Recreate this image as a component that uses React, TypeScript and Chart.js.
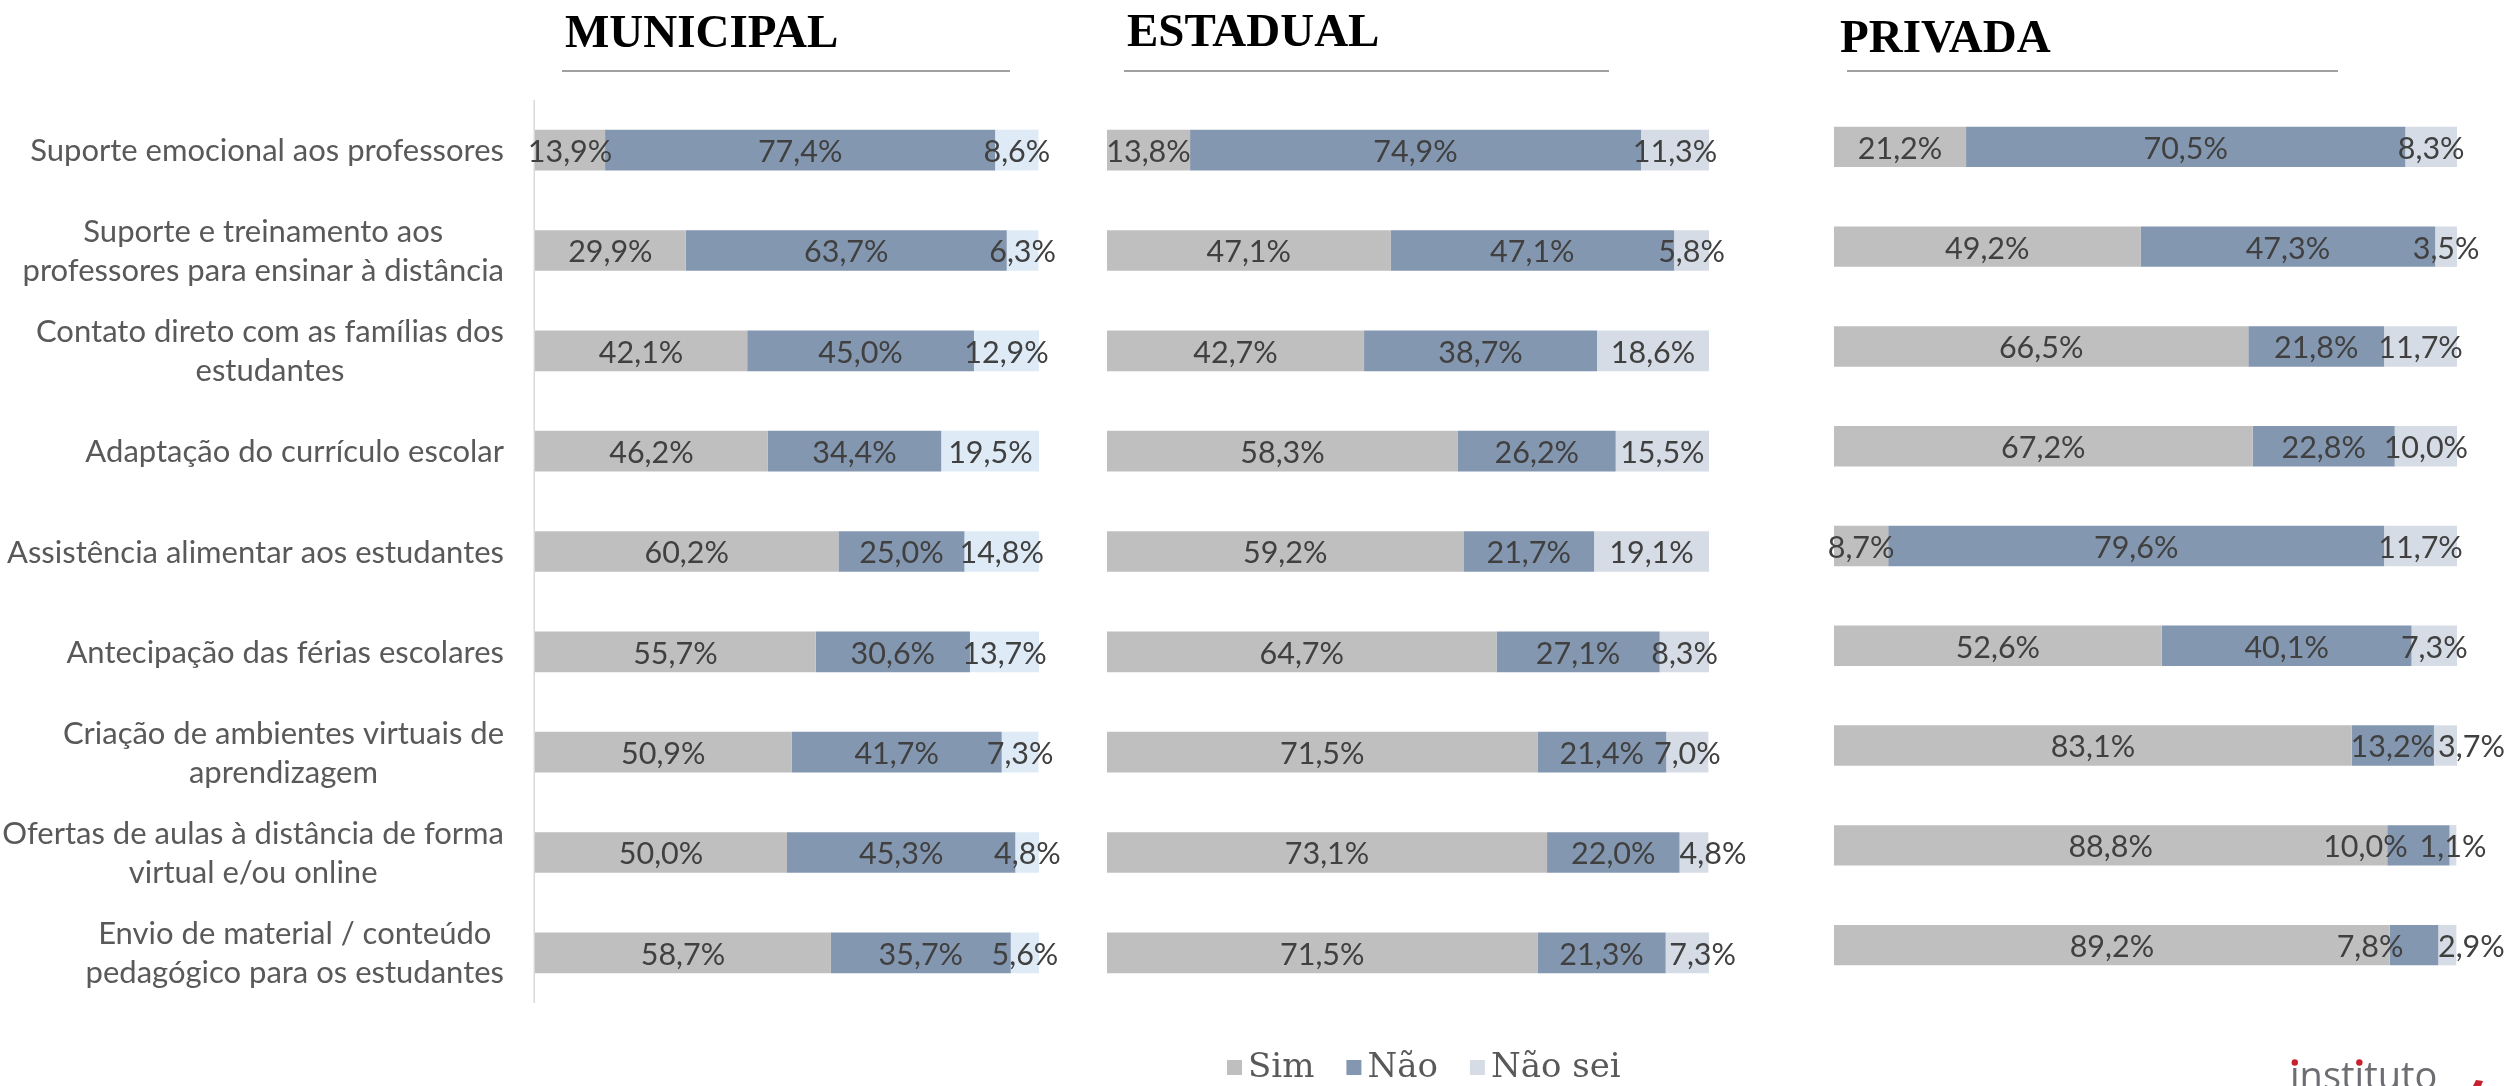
import React, { useEffect, useRef } from "react";
import { Chart, registerables } from "chart.js";

Chart.register(...registerables);

// ---------------- DATA ----------------
const categories: (string | string[])[] = [
  "Suporte emocional aos professores",
  ["Suporte e treinamento aos", "professores para ensinar à distância"],
  ["Contato direto com as famílias dos", "estudantes"],
  "Adaptação do currículo escolar",
  "Assistência alimentar aos estudantes",
  "Antecipação das férias escolares",
  ["Criação de ambientes virtuais de", "aprendizagem"],
  ["Ofertas de aulas à distância de forma", "virtual e/ou online"],
  ["Envio de material / conteúdo", "pedagógico para os estudantes"],
];

const seriesNames = ["Sim", "Não", "Não sei"];

const municipalSim = [13.9, 29.9, 42.1, 46.2, 60.2, 55.7, 50.9, 50.0, 58.7];
const municipalNao = [77.4, 63.7, 45.0, 34.4, 25.0, 30.6, 41.7, 45.3, 35.7];
const municipalNaoSei = [8.6, 6.3, 12.9, 19.5, 14.8, 13.7, 7.3, 4.8, 5.6];

const estadualSim = [13.8, 47.1, 42.7, 58.3, 59.2, 64.7, 71.5, 73.1, 71.5];
const estadualNao = [74.9, 47.1, 38.7, 26.2, 21.7, 27.1, 21.4, 22.0, 21.3];
const estadualNaoSei = [11.3, 5.8, 18.6, 15.5, 19.1, 8.3, 7.0, 4.8, 7.3];

const privadaSim = [21.2, 49.2, 66.5, 67.2, 8.7, 52.6, 83.1, 88.8, 89.2];
const privadaNao = [70.5, 47.3, 21.8, 22.8, 79.6, 40.1, 13.2, 10.0, 7.8];
const privadaNaoSei = [8.3, 3.5, 11.7, 10.0, 11.7, 7.3, 3.7, 1.1, 2.9];

const panelTitles = ["MUNICIPAL", "ESTADUAL", "PRIVADA"];

// ---------------- STYLE / LAYOUT ----------------
const W = 2511;
const H = 1086;
const SIM_COLOR = "#BFBFBF";
const NAO_COLOR = "#8497B0";
const NAOSEI_COLOR = "#D6DCE5";
const NAOSEI_COLOR_MUN = "#DEEBF7";
const LABEL_FONT = "30.5px Lato";
const CAT_FONT = "31px Lato";

type Panel = {
  title: string;
  values: number[][];
  colors: string[];
  area: { left: number; right: number; top: number; bottom: number };
  titleX: number;
  titleY: number;
  lineX1: number;
  lineX2: number;
  showCategories: boolean;
  axisLine: boolean;
  legend: boolean;
  logo: boolean;
  shifts: Record<string, number>;
};

const panels: Panel[] = [
  {
    title: panelTitles[0],
    values: [municipalSim, municipalNao, municipalNaoSei],
    colors: [SIM_COLOR, NAO_COLOR, NAOSEI_COLOR_MUN],
    area: { left: 535, right: 1039, top: 100, bottom: 1003 },
    titleX: 565,
    titleY: 47,
    lineX1: 562,
    lineX2: 1010,
    showCategories: true,
    axisLine: true,
    legend: false,
    logo: false,
    shifts: {},
  },
  {
    title: panelTitles[1],
    values: [estadualSim, estadualNao, estadualNaoSei],
    colors: [SIM_COLOR, NAO_COLOR, NAOSEI_COLOR],
    area: { left: 1107, right: 1709, top: 100, bottom: 1003 },
    titleX: 1127,
    titleY: 46,
    lineX1: 1124,
    lineX2: 1609,
    showCategories: false,
    axisLine: false,
    legend: true,
    logo: false,
    shifts: { "2-7": 19, "2-8": 15 },
  },
  {
    title: panelTitles[2],
    values: [privadaSim, privadaNao, privadaNaoSei],
    colors: [SIM_COLOR, NAO_COLOR, NAOSEI_COLOR],
    area: { left: 1834, right: 2457, top: 97, bottom: 995 },
    titleX: 1840,
    titleY: 52,
    lineX1: 1847,
    lineX2: 2338,
    showCategories: false,
    axisLine: false,
    legend: false,
    logo: true,
    shifts: { "1-7": -53, "1-8": -44, "2-6": 26, "2-8": 24 },
  },
];

const fmt = (v: number) => v.toFixed(1).replace(".", ",") + "%";

function makePlugin(p: Panel) {
  return {
    id: "panelDecor",
    beforeDatasetsDraw(chart: any) {
      const ctx: CanvasRenderingContext2D = chart.ctx;
      if (p.axisLine) {
        const ys = chart.scales.y;
        ctx.save();
        ctx.strokeStyle = "#D9D9D9";
        ctx.lineWidth = 1.5;
        ctx.beginPath();
        ctx.moveTo(chart.chartArea.left - 0.75, ys.top);
        ctx.lineTo(chart.chartArea.left - 0.75, ys.bottom);
        ctx.stroke();
        ctx.restore();
      }
    },
    afterDatasetsDraw(chart: any) {
      const ctx: CanvasRenderingContext2D = chart.ctx;
      ctx.save();
      // data labels
      ctx.font = LABEL_FONT;
      ctx.fillStyle = "#404040";
      ctx.textAlign = "center";
      ctx.textBaseline = "middle";
      chart.data.datasets.forEach((ds: any, d: number) => {
        const meta = chart.getDatasetMeta(d);
        meta.data.forEach((el: any, i: number) => {
          const { x, base, y } = el.getProps(["x", "base", "y"], true);
          const shift = p.shifts[`${d}-${i}`] || 0;
          ctx.fillText(fmt(ds.data[i]), (x + base) / 2 + shift, y + 2);
        });
      });

      // category labels
      if (p.showCategories) {
        const ys = chart.scales.y;
        ctx.font = CAT_FONT;
        ctx.fillStyle = "#595959";
        ctx.textAlign = "center";
        const right = chart.chartArea.left - 31;
        const lh = 39;
        (chart.data.labels as (string | string[])[]).forEach((lab, i) => {
          const lines = Array.isArray(lab) ? lab : [lab];
          const widest = Math.max(...lines.map((l) => ctx.measureText(l).width));
          const cy = ys.getPixelForValue(i);
          lines.forEach((l, j) => {
            ctx.fillText(l, right - widest / 2, cy + 1 + (j - (lines.length - 1) / 2) * lh);
          });
        });
      }

      // title + underline
      ctx.font = "bold 47px 'Liberation Serif'";
      ctx.fillStyle = "#000000";
      ctx.textAlign = "left";
      ctx.textBaseline = "alphabetic";
      ctx.fillText(p.title, p.titleX, p.titleY);
      ctx.strokeStyle = "#A0A0A0";
      ctx.lineWidth = 2;
      ctx.beginPath();
      ctx.moveTo(p.lineX1, 71);
      ctx.lineTo(p.lineX2, 71);
      ctx.stroke();

      // legend
      if (p.legend) {
        ctx.font = "34px 'DejaVu Serif'";
        ctx.textBaseline = "alphabetic";
        let x = 1227;
        chart.data.datasets.forEach((ds: any) => {
          ctx.fillStyle = ds.backgroundColor;
          ctx.fillRect(x, 1060, 15, 15);
          x += 21;
          ctx.fillStyle = "#595959";
          ctx.fillText(ds.label, x, 1077);
          x += ctx.measureText(ds.label).width + 32;
        });
      }

      // logo
      if (p.logo) {
        const word = "instituto";
        const lx = 2290;
        const by = 1089;
        ctx.font = "38px 'Open Sans'";
        ctx.fillStyle = "#6D6E71";
        ctx.textAlign = "left";
        ctx.fillText(word, lx, by);
        ctx.fillStyle = "#C8202F";
        for (let k = 0; k < word.length; k++) {
          if (word[k] === "i") {
            const px = lx + ctx.measureText(word.slice(0, k)).width + ctx.measureText("i").width / 2;
            ctx.beginPath();
            ctx.arc(px, by - 26.5, 3.2, 0, Math.PI * 2);
            ctx.fill();
          }
        }
        ctx.beginPath();
        ctx.moveTo(2473, 1086);
        ctx.lineTo(2476, 1080);
        ctx.lineTo(2483, 1081);
        ctx.lineTo(2481, 1086);
        ctx.closePath();
        ctx.fill();
      }
      ctx.restore();
    },
  };
}

function PanelChart({ p }: { p: Panel }) {
  const ref = useRef<HTMLCanvasElement | null>(null);
  useEffect(() => {
    if (!ref.current) return;
    const chart = new Chart(ref.current, {
      type: "bar",
      data: {
        labels: categories as any,
        datasets: seriesNames.map((name, i) => ({
          label: name,
          data: p.values[i],
          backgroundColor: p.colors[i],
          borderWidth: 0,
          barPercentage: 0.405,
          categoryPercentage: 1,
        })),
      },
      options: {
        indexAxis: "y",
        responsive: false,
        maintainAspectRatio: false,
        animation: false,
        devicePixelRatio: 1,
        layout: {
          padding: {
            left: p.area.left,
            right: W - p.area.right,
            top: p.area.top,
            bottom: H - p.area.bottom,
          },
        },
        scales: {
          x: { stacked: true, min: 0, max: 100, display: false },
          y: { stacked: true, display: false },
        },
        plugins: {
          legend: { display: false },
          tooltip: { enabled: false },
          title: { display: false },
        },
      },
      plugins: [makePlugin(p)],
    });
    return () => chart.destroy();
  }, [p]);
  return (
    <canvas
      ref={ref}
      width={W}
      height={H}
      style={{ position: "absolute", left: 0, top: 0, width: W, height: H }}
    />
  );
}

export default function App() {
  return (
    <div style={{ position: "absolute", left: 0, top: 0, width: W, height: H, background: "#FFFFFF", overflow: "hidden" }}>
      {panels.map((p) => (
        <PanelChart key={p.title} p={p} />
      ))}
    </div>
  );
}
